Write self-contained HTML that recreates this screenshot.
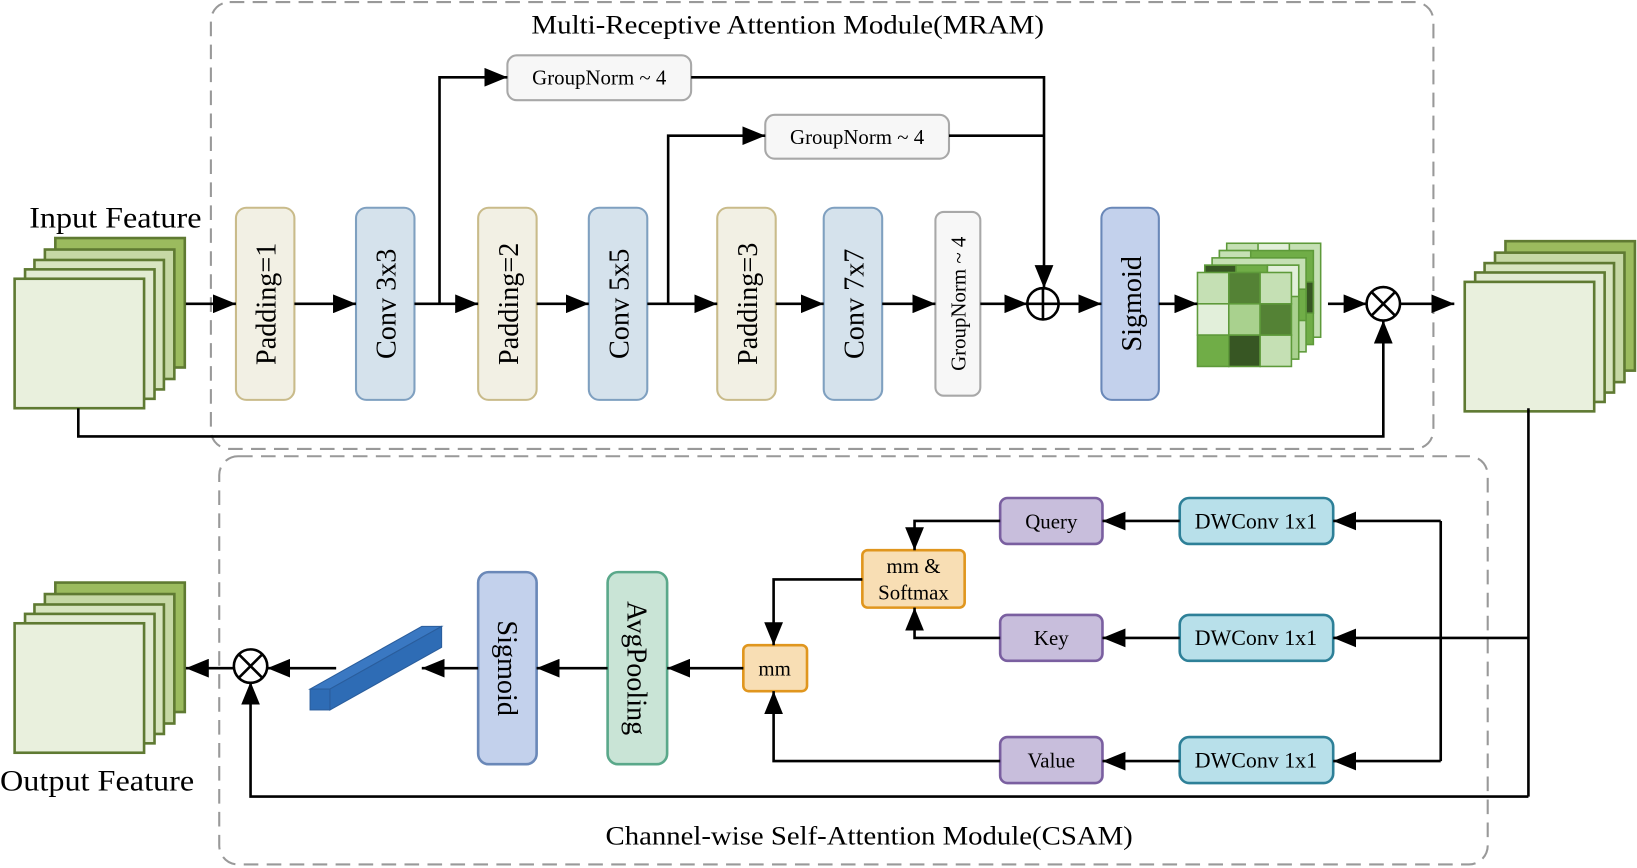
<!DOCTYPE html>
<html><head><meta charset="utf-8"><style>
html,body{margin:0;padding:0;background:#fff;}
svg{display:block;}
text{font-family:"Liberation Serif",serif;fill:#000;}
</style></head><body>
<svg width="1637" height="868" viewBox="0 0 1568 831.4" preserveAspectRatio="none" xmlns="http://www.w3.org/2000/svg">
<defs>
<marker id="b" viewBox="0 0 10 10" refX="10" refY="5" markerWidth="22" markerHeight="18" markerUnits="userSpaceOnUse" orient="auto" preserveAspectRatio="none">
<path d="M0,0 L10,5 L0,10 z" fill="#000"/></marker>
</defs>
<g fill="none" stroke="#999" stroke-width="2" stroke-dasharray="14,8">
<rect x="202" y="2" width="1171" height="428" rx="18"/>
<rect x="210" y="437" width="1215" height="391" rx="18"/>
</g>
<text x="509" y="32" font-size="25" textLength="491" lengthAdjust="spacingAndGlyphs">Multi-Receptive Attention Module(MRAM)</text>
<text x="580" y="809" font-size="25" textLength="505" lengthAdjust="spacingAndGlyphs">Channel-wise Self-Attention Module(CSAM)</text>

<g stroke="#5f7a32" stroke-width="2.5">
<g id="stk">
<rect x="53" y="228" width="124" height="124" fill="#9bbb5e"/>
<rect x="43" y="239" width="124" height="124" fill="#c6d8a5"/>
<rect x="33" y="249" width="124" height="124" fill="#d8e5c0"/>
<rect x="24" y="258" width="124" height="124" fill="#e2ebd2"/>
<rect x="14" y="267" width="124" height="124" fill="#e9f0dd"/>
</g>
<use href="#stk" transform="translate(1389,3)"/>
<use href="#stk" transform="translate(0,330)"/>
</g>
<text x="28" y="218" font-size="28" textLength="165" lengthAdjust="spacingAndGlyphs">Input Feature</text>
<text x="0" y="757" font-size="28" textLength="186" lengthAdjust="spacingAndGlyphs">Output Feature</text>

<g stroke-width="2">
<rect x="226" y="199" width="56" height="184" rx="10" fill="#f2f0e4" stroke="#c9bb8a"/>
<rect x="341" y="199" width="56" height="184" rx="10" fill="#d5e2ec" stroke="#7fa0c0"/>
<rect x="458" y="199" width="56" height="184" rx="10" fill="#f2f0e4" stroke="#c9bb8a"/>
<rect x="564" y="199" width="56" height="184" rx="10" fill="#d5e2ec" stroke="#7fa0c0"/>
<rect x="687" y="199" width="56" height="184" rx="10" fill="#f2f0e4" stroke="#c9bb8a"/>
<rect x="789" y="199" width="56" height="184" rx="10" fill="#d5e2ec" stroke="#7fa0c0"/>
<rect x="896" y="203" width="43" height="176" rx="8" fill="#f7f7f7" stroke="#a8a8a8"/>
<rect x="1055" y="199" width="55" height="184" rx="10" fill="#c3d1ec" stroke="#6a88b8"/>
<rect x="486" y="53" width="176" height="43" rx="9" fill="#f7f7f7" stroke="#a8a8a8"/>
<rect x="733" y="110" width="176" height="42" rx="9" fill="#f7f7f7" stroke="#a8a8a8"/>
</g>
<g font-size="27" text-anchor="middle">
<text transform="translate(264,291) rotate(-90)">Padding=1</text>
<text transform="translate(379,291) rotate(-90)">Conv 3x3</text>
<text transform="translate(496,291) rotate(-90)">Padding=2</text>
<text transform="translate(602,291) rotate(-90)">Conv 5x5</text>
<text transform="translate(725,291) rotate(-90)">Padding=3</text>
<text transform="translate(827,291) rotate(-90)">Conv 7x7</text>
<text transform="translate(1093,291) rotate(-90)">Sigmoid</text>
<text font-size="20" transform="translate(925,291) rotate(-90)">GroupNorm ~ 4</text>
<text font-size="20" x="574" y="81">GroupNorm ~ 4</text>
<text font-size="20" x="821" y="138">GroupNorm ~ 4</text>
</g>

<g stroke="#5e9a3a" stroke-width="1.5">
<g transform="translate(28,-28)"><rect x="1147" y="261" width="90" height="90" fill="#c5e0b4"/><rect x="1177" y="261" width="30" height="30" fill="#e2efda"/></g>
<g transform="translate(21,-21)"><rect x="1147" y="261" width="90" height="90" fill="#70ad47"/><rect x="1147" y="261" width="30" height="30" fill="#c5e0b4"/><rect x="1207" y="291" width="30" height="30" fill="#375623"/></g>
<g transform="translate(14,-14)"><rect x="1147" y="261" width="90" height="90" fill="#c5e0b4"/><rect x="1207" y="291" width="30" height="30" fill="#70ad47"/></g>
<g transform="translate(7,-7)"><rect x="1147" y="261" width="90" height="90" fill="#a9d18e"/><rect x="1147" y="261" width="30" height="30" fill="#375623"/><rect x="1177" y="261" width="30" height="30" fill="#70ad47"/><rect x="1207" y="261" width="30" height="30" fill="#e2efda"/></g>
<rect x="1147" y="261" width="30" height="30" fill="#c5e0b4"/>
<rect x="1177" y="261" width="30" height="30" fill="#548235"/>
<rect x="1207" y="261" width="30" height="30" fill="#c5e0b4"/>
<rect x="1147" y="291" width="30" height="30" fill="#e2efda"/>
<rect x="1177" y="291" width="30" height="30" fill="#a9d18e"/>
<rect x="1207" y="291" width="30" height="30" fill="#548235"/>
<rect x="1147" y="321" width="30" height="30" fill="#70ad47"/>
<rect x="1177" y="321" width="30" height="30" fill="#375623"/>
<rect x="1207" y="321" width="30" height="30" fill="#c5e0b4"/>
</g>

<g stroke="#000" stroke-width="2.5" fill="none">
<line x1="178" y1="291" x2="226" y2="291" marker-end="url(#b)"/>
<line x1="282" y1="291" x2="341" y2="291" marker-end="url(#b)"/>
<line x1="397" y1="291" x2="458" y2="291" marker-end="url(#b)"/>
<line x1="514" y1="291" x2="564" y2="291" marker-end="url(#b)"/>
<line x1="620" y1="291" x2="687" y2="291" marker-end="url(#b)"/>
<line x1="743" y1="291" x2="789" y2="291" marker-end="url(#b)"/>
<line x1="845" y1="291" x2="896" y2="291" marker-end="url(#b)"/>
<line x1="939" y1="291" x2="984" y2="291" marker-end="url(#b)"/>
<line x1="1014" y1="291" x2="1055" y2="291" marker-end="url(#b)"/>
<line x1="1110" y1="291" x2="1147" y2="291" marker-end="url(#b)"/>
<line x1="1272" y1="291" x2="1309" y2="291" marker-end="url(#b)"/>
<line x1="1341" y1="291" x2="1393" y2="291" marker-end="url(#b)"/>
<polyline points="421,291 421,74 486,74" marker-end="url(#b)"/>
<polyline points="640,291 640,130 733,130" marker-end="url(#b)"/>
<polyline points="662,74 1000,74 1000,276" marker-end="url(#b)"/>
<line x1="909" y1="130" x2="1000" y2="130"/>
<polyline points="75,391 75,418 1325,418 1325,307" marker-end="url(#b)"/>
<circle cx="999" cy="291" r="15" fill="#fff"/>
<path d="M984,291 H1014 M999,276 V306"/>
<circle cx="1325" cy="291" r="16" fill="#fff"/>
<path d="M1314,280 L1336,302 M1336,280 L1314,302"/>
</g>

<g stroke-width="2.5">
<rect x="458" y="548" width="56" height="184" rx="10" fill="#c3d1ec" stroke="#6a88b8"/>
<rect x="582" y="548" width="57" height="184" rx="10" fill="#c9e4d6" stroke="#5aa88a"/>
<rect x="712" y="618" width="61" height="44" rx="5" fill="#f8deb4" stroke="#e0961e"/>
<rect x="826" y="527" width="98" height="55" rx="5" fill="#f8deb4" stroke="#e0961e"/>
<rect x="958" y="477" width="98" height="44" rx="7" fill="#c8bedc" stroke="#7a5fa0"/>
<rect x="958" y="589" width="98" height="44" rx="7" fill="#c8bedc" stroke="#7a5fa0"/>
<rect x="958" y="706" width="98" height="44" rx="7" fill="#c8bedc" stroke="#7a5fa0"/>
<rect x="1130" y="477" width="147" height="44" rx="9" fill="#b8e0ea" stroke="#2e8098"/>
<rect x="1130" y="589" width="147" height="44" rx="9" fill="#b8e0ea" stroke="#2e8098"/>
<rect x="1130" y="706" width="147" height="44" rx="9" fill="#b8e0ea" stroke="#2e8098"/>
</g>
<g font-size="27" text-anchor="middle">
<text transform="translate(477,640) rotate(90)">Sigmoid</text>
<text transform="translate(601,640) rotate(90)">AvgPooling</text>
</g>
<g font-size="20" text-anchor="middle">
<text x="742" y="647">mm</text>
<text x="875" y="549">mm &amp;</text>
<text x="875" y="574">Softmax</text>
<text x="1007" y="506">Query</text>
<text x="1007" y="618">Key</text>
<text x="1007" y="735">Value</text>
<text x="1203" y="506" font-size="21">DWConv 1x1</text>
<text x="1203" y="618" font-size="21">DWConv 1x1</text>
<text x="1203" y="735" font-size="21">DWConv 1x1</text>
</g>

<g stroke="#2a5d9c" stroke-width="1">
<polygon points="297,660 404,600 423,600 316,660" fill="#3a78c2"/>
<polygon points="316,660 423,600 423,620 316,680" fill="#2e6cb5"/>
<rect x="297" y="660" width="19" height="20" fill="#2e6cb5"/>
</g>

<g stroke="#000" stroke-width="2.5" fill="none">
<line x1="1464" y1="391" x2="1464" y2="763"/>
<polyline points="1464,763 240,763 240,653" marker-end="url(#b)"/>
<line x1="1464" y1="611" x2="1277" y2="611" marker-end="url(#b)"/>
<polyline points="1380,499 1380,729"/>
<line x1="1380" y1="499" x2="1277" y2="499" marker-end="url(#b)"/>
<line x1="1380" y1="729" x2="1277" y2="729" marker-end="url(#b)"/>
<line x1="1130" y1="499" x2="1056" y2="499" marker-end="url(#b)"/>
<line x1="1130" y1="611" x2="1056" y2="611" marker-end="url(#b)"/>
<line x1="1130" y1="729" x2="1056" y2="729" marker-end="url(#b)"/>
<polyline points="958,499 876,499 876,527" marker-end="url(#b)"/>
<polyline points="958,611 876,611 876,582" marker-end="url(#b)"/>
<polyline points="826,555 741,555 741,618" marker-end="url(#b)"/>
<polyline points="958,729 741,729 741,662" marker-end="url(#b)"/>
<line x1="712" y1="640" x2="639" y2="640" marker-end="url(#b)"/>
<line x1="582" y1="640" x2="514" y2="640" marker-end="url(#b)"/>
<line x1="458" y1="640" x2="404" y2="640" marker-end="url(#b)"/>
<line x1="322" y1="640" x2="256" y2="640" marker-end="url(#b)"/>
<line x1="224" y1="640" x2="178" y2="640" marker-end="url(#b)"/>
<circle cx="240" cy="638" r="16" fill="#fff"/>
<path d="M229,627 L251,649 M251,627 L229,649"/>
</g>
</svg>
</body></html>
